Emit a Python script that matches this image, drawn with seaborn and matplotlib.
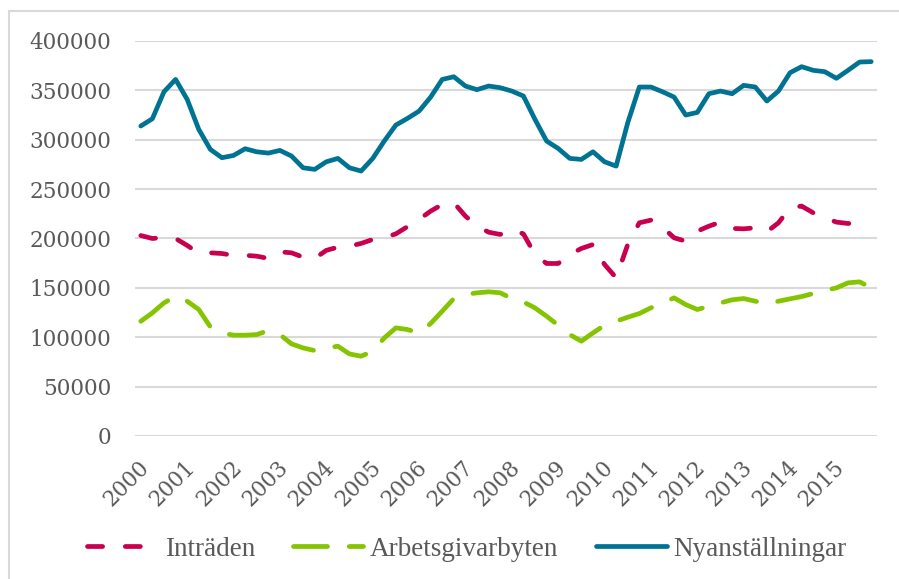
import numpy as np
import pandas as pd
import matplotlib
matplotlib.use("Agg")
import matplotlib.pyplot as plt
import seaborn as sns
from matplotlib.patches import Rectangle
from matplotlib.transforms import ScaledTranslation

years = [str(y) for y in range(2000, 2016)]

intraden = [203000, 200000, 201000, 200000, 193000, 185000, 185500, 184800,
            182800, 183000, 182100, 179800, 186500, 185500, 181100, 179800,
            188000, 191200, 192200, 195000, 199000, 200700, 204700, 212000,
            219300, 227700, 234500, 236200, 222700, 212500, 206400, 204100,
            209100, 204700, 183800, 174700, 174700, 183800, 189900, 193900,
            173700, 160200, 193900, 215900, 218600, 211500, 200700, 197300,
            207400, 212500, 216600, 210200, 209800, 210800, 206800, 215900,
            231100, 232800, 226000, 221000, 216600, 215200, 215900, 216000]

arbetsgivarbyten = [116200, 124700, 134800, 141600, 136500, 128100, 110500, 104400,
                    102100, 102100, 102700, 106800, 102700, 93300, 89200, 86500,
                    89200, 90900, 83100, 80800, 85800, 99300, 109500, 107800,
                    104400, 113900, 126400, 139200, 143300, 145000, 146000, 145000,
                    139200, 135800, 129700, 121300, 112200, 102700, 96000, 104400,
                    112200, 116200, 120300, 124000, 129800, 134800, 139900, 133100,
                    128100, 131400, 134800, 137900, 139200, 136500, 133800, 136500,
                    138900, 141200, 144300, 147300, 150000, 155100, 156100, 150000]

nyanstallningar = [313900, 321300, 348600, 361100, 340900, 310500, 290200, 281800,
                   284100, 290900, 287800, 286500, 289200, 283500, 271600, 270000,
                   277700, 281100, 271600, 268300, 281000, 298700, 314900, 321600,
                   329000, 343200, 361100, 363800, 354400, 350700, 354400, 352700,
                   349300, 344300, 320600, 298700, 291200, 281100, 280100, 287800,
                   277700, 273300, 317200, 353400, 353400, 348600, 343200, 325000,
                   327700, 346600, 349300, 346600, 355100, 353400, 339200, 349300,
                   367900, 374000, 370300, 368900, 362200, 370300, 378700, 379100]

series_names = ["Inträden", "Arbetsgivarbyten", "Nyanställningar"]
colors = ["#c8004f", "#84c400", "#007393"]

sns.set_theme(style="white")
plt.rcParams["font.family"] = ["DejaVu Serif", "DejaVu Sans"]

fig = plt.figure(figsize=(8.99, 5.79), dpi=100)
ax = fig.add_axes([135 / 899, 1 - 436 / 579, (877 - 135) / 899, (436 - 41) / 579])

x = np.arange(len(intraden))
df = pd.DataFrame({"x": x, "Inträden": intraden,
                   "Arbetsgivarbyten": arbetsgivarbyten,
                   "Nyanställningar": nyanstallningar})

lw = 3.4
sns.lineplot(data=df, x="x", y="Inträden", ax=ax, color=colors[0], lw=lw,
             linestyle=(0, (3.2, 4.8)), dash_capstyle="round",
             label=series_names[0])
sns.lineplot(data=df, x="x", y="Arbetsgivarbyten", ax=ax, color=colors[1], lw=lw,
             linestyle=(0, (7.2, 4.6)), dash_capstyle="round",
             label=series_names[1])
sns.lineplot(data=df, x="x", y="Nyanställningar", ax=ax, color=colors[2], lw=lw,
             solid_capstyle="round", solid_joinstyle="round",
             label=series_names[2])

ax.set_xlim(-0.5, len(x) - 0.5)
ax.set_ylim(0, 400000)
ax.set_yticks(np.arange(0, 400001, 50000))
ax.set_yticklabels([str(v) for v in range(0, 400001, 50000)])
ax.set_xticks(np.arange(0, len(x), 4))
ax.set_xticklabels(years, rotation=45, ha="right", va="center",
                   rotation_mode="anchor")
ax.set_xlabel("")
ax.set_ylabel("")
ax.grid(axis="y", color="#d9d9d9", lw=1.5)
ax.grid(axis="x", visible=False)
ax.set_axisbelow(True)
for s in ax.spines.values():
    s.set_visible(False)
ax.tick_params(axis="y", length=0, pad=17, labelsize=15.5, labelcolor="#595959")
ax.tick_params(axis="x", length=0, pad=18, labelsize=15.5, labelcolor="#595959")
off = ScaledTranslation(5 / 100, -3 / 100, fig.dpi_scale_trans)
for lab in ax.get_xticklabels():
    lab.set_transform(lab.get_transform() + off)

handles, labels = ax.get_legend_handles_labels()
ax.legend(handles, labels, loc="center", bbox_to_anchor=(467 / 899, 1 - 549 / 579),
          bbox_transform=fig.transFigure, ncol=3, frameon=False,
          prop={"family": "Liberation Serif", "size": 19.5},
          labelcolor="#595959", handlelength=2.6, handletextpad=0.25,
          columnspacing=1.4)

fig.patches.append(Rectangle((9 / 899, -0.1), 1.2, 1 - 11 / 579 + 0.1,
                             transform=fig.transFigure, fill=False,
                             edgecolor="#d9d9d9", lw=1.5, zorder=0))

fig.savefig("out.png", dpi=100)
